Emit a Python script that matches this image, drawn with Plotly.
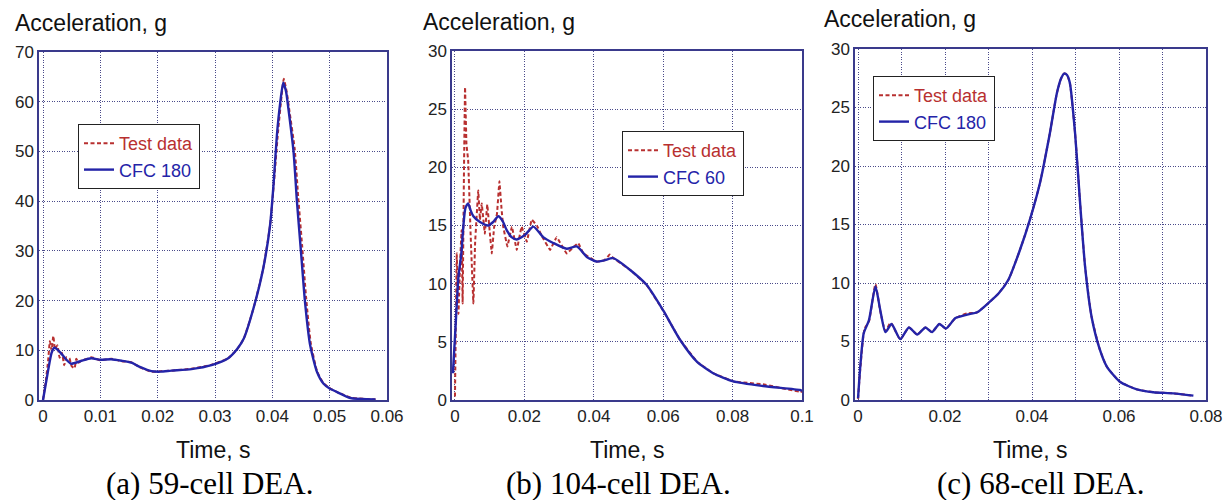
import plotly.graph_objects as go

# ---------------- data ----------------
# (a) 59-cell DEA
a_cfc_t = [0, 0.0009, 0.0015, 0.002, 0.003, 0.004, 0.0049, 0.0065, 0.0084, 0.010, 0.0119, 0.0137,
           0.0154, 0.017, 0.0189, 0.0205, 0.0224, 0.0259, 0.0294, 0.0323, 0.0339, 0.035, 0.0367,
           0.0384, 0.0396, 0.0402, 0.0408, 0.0414, 0.0419, 0.0424, 0.0428, 0.0437, 0.0443, 0.045,
           0.0457, 0.0466, 0.0478, 0.0489, 0.050, 0.0513, 0.0536, 0.058]
a_cfc_g = [0, 6, 9.5, 10.5, 9.6, 8.2, 7.3, 7.8, 8.4, 8.1, 8.2, 7.9, 7.5, 6.6, 5.8, 5.7, 5.9, 6.2,
           7.0, 8.4, 10.3, 12.3, 18.4, 26.4, 35.1, 43.2, 53.3, 60, 63.8, 62, 58.6, 49.9, 39.8,
           29.8, 19.7, 11, 5.6, 3.3, 2.3, 1.6, 0.4, 0.1]
a_test_t = [0, 0.0005, 0.0009, 0.0012, 0.0015, 0.0018, 0.0021, 0.0025, 0.0029, 0.0033, 0.0037,
            0.0041, 0.0046, 0.005, 0.0055, 0.0058, 0.0062, 0.0068, 0.0075, 0.0084, 0.010, 0.0119,
            0.0137, 0.0154, 0.017, 0.0189, 0.0205, 0.0224, 0.0259, 0.0294, 0.0323, 0.0339, 0.035,
            0.0367, 0.0384, 0.0396, 0.0403, 0.041, 0.0416, 0.042, 0.0425, 0.043, 0.0439, 0.0445,
            0.0452, 0.0459, 0.0467, 0.0478, 0.0489, 0.050, 0.0513, 0.0536, 0.058]
a_test_g = [0, 4, 8, 11.8, 10, 12.9, 10.2, 11, 8.5, 9.5, 7.0, 8.6, 8.4, 6.8, 6.4, 8.3, 7.5, 8.0,
            8.2, 8.6, 8.0, 8.3, 7.8, 7.6, 6.5, 5.7, 5.8, 5.9, 6.3, 7.1, 8.4, 10.3, 12.3, 18.4,
            26.4, 35.1, 44, 54, 61, 64.6, 62, 58, 50.5, 41, 31, 20.5, 11.5, 5.8, 3.4, 2.4, 1.6,
            0.5, 0.1]

# (b) 104-cell DEA
b_cfc_t = [-0.0006, 0, 0.001, 0.0018, 0.0024, 0.003, 0.0038, 0.0045, 0.0053, 0.0072, 0.0096,
           0.011, 0.0125, 0.0137, 0.0149, 0.0163, 0.0178, 0.0202, 0.0226, 0.0254, 0.0283, 0.0322,
           0.0351, 0.038, 0.0408, 0.043, 0.0456, 0.0504, 0.0552, 0.06, 0.0648, 0.0697, 0.0744,
           0.0802, 0.0888, 0.0994, 0.1]
b_cfc_g = [2.3, 5.4, 10.6, 12.5, 14.9, 16.5, 16.9, 16.3, 15.8, 15.3, 15.0, 15.3, 15.8, 15.4,
           14.6, 14.0, 13.8, 14.2, 14.9, 14.0, 13.5, 13.0, 13.2, 12.3, 11.9, 12.0, 12.2, 11.2,
           9.9, 7.7, 5.2, 3.3, 2.3, 1.6, 1.2, 0.86, 0.8]
b_test_t = [0, 0.0005, 0.001, 0.0015, 0.0019, 0.0022, 0.0026, 0.0029, 0.0033, 0.0038, 0.0045,
            0.0053, 0.0058, 0.0067, 0.0072, 0.0077, 0.0086, 0.0093, 0.0100, 0.0106, 0.0113,
            0.0121, 0.0128, 0.0134, 0.0139, 0.0151, 0.0164, 0.0178, 0.0192, 0.0207, 0.0221,
            0.0236, 0.025, 0.0274, 0.0293, 0.0322, 0.0355, 0.037, 0.0408, 0.043, 0.0446, 0.0456,
            0.0504, 0.0552, 0.06, 0.0648, 0.0697, 0.0744, 0.0802, 0.0888, 0.0994, 0.1]
b_test_g = [0.3, 12.6, 7.4, 12.0, 14.6, 8.3, 20, 26.9, 22, 20.6, 14.3, 8.3, 13.5, 18.0, 15.5,
            16.9, 14.3, 16.8, 14.5, 12.6, 14.9, 16, 18.8, 16.5, 14.9, 13.2, 14.9, 12.9, 14.9,
            13.6, 15.5, 15.0, 14.1, 12.9, 14.0, 12.6, 13.5, 12.6, 11.9, 12.0, 12.5, 12.2, 11.2,
            9.9, 7.7, 5.2, 3.3, 2.3, 1.6, 1.35, 0.7, 0.7]

# (c) 68-cell DEA
c_cfc_t = [0, 0.0005, 0.0013, 0.0025, 0.004, 0.0051, 0.0063, 0.0077, 0.0097, 0.0117, 0.0136,
           0.0155, 0.017, 0.0187, 0.0202, 0.0224, 0.0251, 0.0274, 0.03, 0.0323, 0.0346, 0.0372,
           0.0395, 0.0418, 0.0441, 0.0457, 0.0467, 0.0474, 0.048, 0.0487, 0.0499, 0.051, 0.0522,
           0.0537, 0.0556, 0.0572, 0.0602, 0.0641, 0.0679, 0.0725, 0.0771]
c_cfc_g = [0.15, 2.8, 5.7, 6.8, 9.7, 7.7, 5.8, 6.5, 5.2, 6.2, 5.6, 6.2, 5.8, 6.5, 6.1, 7.0, 7.3,
           7.5, 8.3, 9.1, 10.3, 12.8, 15.4, 18.5, 22.8, 26.2, 27.5, 27.9, 27.8, 27.1, 22.8, 17.1,
           11.4, 7.1, 4.3, 2.85, 1.56, 0.91, 0.66, 0.57, 0.37]
c_test_t = [0, 0.0005, 0.0015, 0.0025, 0.004, 0.0051, 0.0063, 0.0075, 0.0097, 0.0117, 0.0136,
            0.0155, 0.017, 0.0187, 0.0202, 0.0224, 0.0251, 0.0274, 0.03, 0.0323, 0.0346, 0.0372,
            0.0395, 0.0418, 0.0441, 0.0457, 0.0467, 0.0474, 0.048, 0.0487, 0.0499, 0.051, 0.0522,
            0.0537, 0.0556, 0.0572, 0.0602, 0.0641, 0.0679, 0.0725, 0.0771]
c_test_g = [0.1, 2.6, 6.1, 6.7, 9.9, 7.6, 5.9, 6.6, 5.2, 6.2, 5.6, 6.2, 5.8, 6.5, 6.1, 7.0, 7.4,
            7.5, 8.3, 9.1, 10.3, 12.8, 15.4, 18.5, 22.8, 26.2, 27.5, 27.9, 27.8, 27.1, 22.8, 17.1,
            11.4, 7.1, 4.3, 2.85, 1.56, 0.91, 0.66, 0.57, 0.37]

# tick labels
a_xticks = [0, 0.01, 0.02, 0.03, 0.04, 0.05, 0.06]
a_xlabels = ["0", "0.01", "0.02", "0.03", "0.04", "0.05", "0.06"]
a_yticks = [0, 10, 20, 30, 40, 50, 60, 70]
b_xticks = [0, 0.02, 0.04, 0.06, 0.08, 0.1]
b_xlabels = ["0", "0.02", "0.04", "0.06", "0.08", "0.1"]
b_yticks = [0, 5, 10, 15, 20, 25, 30]
c_xticks = [0, 0.01, 0.02, 0.03, 0.04, 0.05, 0.06, 0.07, 0.08]
c_xlabels = ["0", "", "0.02", "", "0.04", "", "0.06", "", "0.08"]
c_yticks = [0, 5, 10, 15, 20, 25, 30]

legend_a = ["Test data", "CFC 180"]
legend_b = ["Test data", "CFC 60"]
legend_c = ["Test data", "CFC 180"]
captions = ["(a) 59-cell DEA.", "(b) 104-cell DEA.", "(c) 68-cell DEA."]

# ---------------- style ----------------
W, H = 1232, 500
RED = "#b83030"
BLUE = "#2424a8"
FRAME = "#3a3a8c"
GRID = "#4a4a8a"
SANS = "Liberation Sans, Arial, sans-serif"
SERIF = "Liberation Serif, Times New Roman, serif"

# pixel geometry of each plot area: (left, right, top, bottom)
boxes = [(39, 387, 52, 400), (452, 802, 51, 400), (855, 1206, 49, 400)]
xranges = [[-0.0007, 0.06], [-0.00086, 0.1], [-0.0007, 0.08]]
yranges = [[0, 70], [0, 30], [0, 30]]
xticks = [(a_xticks, a_xlabels), (b_xticks, b_xlabels), (c_xticks, c_xlabels)]
yticks = [a_yticks, b_yticks, c_yticks]
legpos = [(78, 124), (622, 131), (873, 76)]
ytitle_pos = [(13, 23), (421, 22), (822, 19)]
caption_x = [210, 618, 1040]
test_smooth = [0.5, 0.15, 0.5]

data = [
    (a_test_t, a_test_g, a_cfc_t, a_cfc_g, legend_a),
    (b_test_t, b_test_g, b_cfc_t, b_cfc_g, legend_b),
    (c_test_t, c_test_g, c_cfc_t, c_cfc_g, legend_c),
]

fig = go.Figure()
annotations = []
layout = dict(
    width=W, height=H, margin=dict(l=0, r=0, t=0, b=0, autoexpand=False),
    paper_bgcolor="white", plot_bgcolor="white",
    font=dict(family=SANS, size=17, color="#222222"),
)

for i, (tt, tg, ct, cg, names) in enumerate(data):
    n = "" if i == 0 else str(i + 1)
    xa, ya = "x" + n, "y" + n
    leg = "legend" + n
    fig.add_trace(go.Scatter(
        x=tt, y=tg, mode="lines", xaxis=xa, yaxis=ya, legend=leg,
        name=f'<span style="color:{RED}">{names[0]}</span>',
        line=dict(color=RED, width=2, dash="4px,2.5px", shape="spline",
                  smoothing=test_smooth[i]),
    ))
    fig.add_trace(go.Scatter(
        x=ct, y=cg, mode="lines", xaxis=xa, yaxis=ya, legend=leg,
        name=f'<span style="color:{BLUE}">{names[1]}</span>',
        line=dict(color=BLUE, width=2.4, shape="spline", smoothing=0.6),
    ))
    l, r, t, b = boxes[i]
    axis_common = dict(
        showline=True, linecolor=FRAME, linewidth=1.5, mirror=True,
        showgrid=True, gridcolor=GRID, gridwidth=1, griddash="1px,1.5px",
        zeroline=False, ticks="", automargin=False,
        tickfont=dict(family=SANS, size=17, color="#222222"),
    )
    layout["xaxis" + n] = dict(
        axis_common, domain=[l / W, r / W], range=xranges[i], anchor=ya,
        tickmode="array", tickvals=xticks[i][0], ticktext=xticks[i][1],
    )
    layout["yaxis" + n] = dict(
        axis_common, domain=[1 - b / H, 1 - t / H], range=yranges[i], anchor=xa,
        tickmode="array", tickvals=yticks[i],
    )
    lx, ly = legpos[i]
    layout[leg] = dict(
        x=lx / W, y=1 - ly / H, xanchor="left", yanchor="top",
        bgcolor="white", bordercolor="#222222", borderwidth=1,
        font=dict(family=SANS, size=18), tracegroupgap=0,
        itemwidth=30,
    )
    tx, ty = ytitle_pos[i]
    annotations.append(dict(
        text="Acceleration, g", x=tx / W, y=1 - ty / H, xref="paper", yref="paper",
        xanchor="left", yanchor="middle", showarrow=False,
        font=dict(family=SANS, size=23, color="#111111"),
    ))
    annotations.append(dict(
        text="Time, s", x=(l + r) / 2 / W, y=1 - 450 / H, xref="paper", yref="paper",
        xanchor="center", yanchor="middle", showarrow=False,
        font=dict(family=SANS, size=23, color="#111111"),
    ))
    annotations.append(dict(
        text=captions[i], x=caption_x[i] / W, y=1 - 483 / H, xref="paper", yref="paper",
        xanchor="center", yanchor="middle", showarrow=False,
        font=dict(family=SERIF, size=31, color="#000000"),
    ))

layout["annotations"] = annotations
fig.update_layout(**layout)
fig.write_html(
    "out.html",
    config={"displayModeBar": False},
    post_script="document.body.style.margin='0px';document.body.style.overflow='hidden';",
)
